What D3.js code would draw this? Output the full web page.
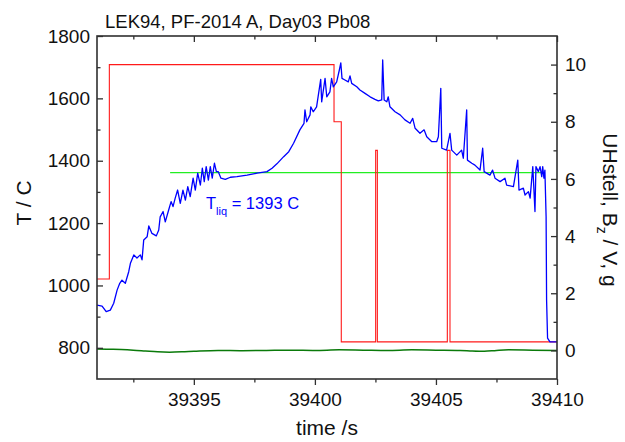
<!DOCTYPE html>
<html><head><meta charset="utf-8">
<script src="https://cdn.jsdelivr.net/npm/d3@7"></script>
<style>
html,body{margin:0;padding:0;background:#fff;}
svg{display:block;font-family:"Liberation Sans",Arial,sans-serif;}
</style></head>
<body>
<svg id="chart" width="625" height="442"></svg>
<script>
// ---------- data ----------
const chartTitle = "LEK94, PF-2014 A, Day03 Pb08";
const xDomain = [39391, 39410];
const yLeftDomain = [700, 1800];
const yRightDomain = [-1, 11];
const xMajorTicks = [39395, 39400, 39405, 39410];
const xMinorTicks = [39392.5, 39397.5, 39402.5, 39407.5];
const yLeftMajorTicks = [800, 1000, 1200, 1400, 1600, 1800];
const yLeftMinorTicks = [900, 1100, 1300, 1500, 1700];
const yRightMajorTicks = [0, 2, 4, 6, 8, 10];
const yRightMinorTicks = [1, 3, 5, 7, 9];

// blue: temperature (left axis)
const tempTime = [39391.00,39391.21,39391.38,39391.55,39391.69,39391.83,39391.94,39392.03,39392.17,39392.31,39392.38,39392.52,39392.65,39392.79,39392.86,39392.93,39393.07,39393.14,39393.27,39393.45,39393.55,39393.61,39393.73,39393.82,39393.96,39394.06,39394.14,39394.23,39394.33,39394.44,39394.55,39394.65,39394.75,39394.85,39394.97,39395.06,39395.16,39395.27,39395.35,39395.43,39395.51,39395.60,39395.68,39395.76,39395.85,39395.93,39396.01,39396.12,39396.30,39396.51,39396.78,39397.20,39397.61,39398.02,39398.23,39398.43,39398.71,39398.92,39399.12,39399.38,39399.55,39399.59,39399.66,39399.80,39399.83,39399.93,39400.07,39400.24,39400.28,39400.42,39400.49,39400.62,39400.69,39400.76,39400.90,39401.01,39401.07,39401.12,39401.24,39401.38,39401.45,39401.52,39401.73,39401.86,39402.07,39402.28,39402.48,39402.62,39402.76,39402.80,39402.86,39402.97,39403.03,39403.10,39403.31,39403.52,39403.72,39403.93,39404.04,39404.14,39404.34,39404.51,39404.62,39404.83,39405.03,39405.10,39405.20,39405.24,39405.44,39405.58,39405.65,39405.86,39406.06,39406.13,39406.27,39406.30,39406.48,39406.61,39406.82,39406.93,39406.99,39407.23,39407.34,39407.44,39407.65,39407.85,39407.92,39408.20,39408.38,39408.43,39408.61,39408.68,39408.82,39408.89,39409.00,39409.09,39409.13,39409.23,39409.30,39409.37,39409.41,39409.46,39409.50,39409.55,39409.57,39409.61,39409.71,39410.00];
const tempValue = [937,934,916,921,943,985,1007,1017,1007,1044,1071,1098,1088,1098,1082,1146,1156,1191,1167,1159,1178,1220,1237,1204,1242,1269,1253,1280,1306,1263,1306,1274,1317,1285,1344,1306,1360,1322,1376,1333,1381,1338,1381,1344,1392,1365,1365,1344,1340,1347,1349,1354,1360,1365,1376,1390,1413,1429,1456,1499,1520,1563,1525,1547,1573,1557,1573,1661,1589,1664,1605,1621,1664,1637,1653,1691,1714,1664,1659,1653,1672,1648,1637,1627,1616,1605,1597,1592,1595,1723,1595,1589,1605,1573,1557,1547,1531,1520,1536,1504,1488,1499,1477,1461,1461,1477,1632,1440,1434,1488,1434,1418,1434,1408,1563,1402,1392,1386,1370,1440,1365,1354,1370,1344,1333,1344,1322,1317,1402,1306,1312,1290,1301,1280,1381,1237,1381,1365,1381,1349,1381,1344,1370,1220,953,831,819,819];

// red: UHstell (right axis), step signal
const uTime = [39391.00,39391.51,39391.51,39400.79,39400.79,39401.09,39401.09,39402.51,39402.51,39402.58,39402.58,39405.47,39405.47,39405.58,39405.58,39410.00];
const uValue = [2.5,2.5,10.0,10.0,8.0,8.0,0.3,0.3,7.0,7.0,0.3,0.3,7.0,7.0,0.3,0.3];

// dark green: Bz (right axis)
const bTime = [39391,39391.5,39392,39392.5,39393,39393.5,39394,39394.5,39395,39396,39397,39398,39399,39400,39401,39402,39403,39404,39405,39406,39406.5,39407,39407.5,39408,39409,39410];
const bValue = [0.05,0.04,0.03,0.01,-0.02,-0.05,-0.06,-0.05,-0.03,0.0,-0.01,0.0,0.01,0.0,0.02,0.01,0.0,0.02,0.01,0.0,-0.02,-0.03,0.0,0.02,0.01,0.0];

// T_liq reference line (left axis)
const liqTime = [39394.02, 39409.5];
const liqValue = [1362, 1362];
const liqLabel = {t: 39395.5, v: 1245, main: "T", sub: "liq", rest: " = 1393 C"};

// ---------- drawing ----------
const svg = d3.select("#chart");
const L = 97, R = 557, T = 36, B = 379;
const x = d3.scaleLinear().domain(xDomain).range([L, R]);
const yL = d3.scaleLinear().domain(yLeftDomain).range([B, T]);
const yR = d3.scaleLinear().domain(yRightDomain).range([B, T]);

const plot = svg.append("g");
svg.append("clipPath").attr("id","clip").append("rect")
  .attr("x", L).attr("y", T).attr("width", R-L).attr("height", B-T);
plot.attr("clip-path","url(#clip)");

function series(ts, vs, ys){ return ts.map((t,i)=>[x(t), ys(vs[i])]); }
const line = d3.line();

plot.append("path").attr("d", line(series(liqTime, liqValue, yL)))
  .attr("fill","none").attr("stroke","#22ee22").attr("stroke-width",1.3);
plot.append("path").attr("d", line(series(uTime, uValue, yR)))
  .attr("fill","none").attr("stroke","#ff1a1a").attr("stroke-width",1.1);
plot.append("path").attr("d", line(series(tempTime, tempValue, yL)))
  .attr("fill","none").attr("stroke","#0000ff").attr("stroke-width",1.3).attr("stroke-linejoin","round");
plot.append("path").attr("d", d3.line().curve(d3.curveMonotoneX)(series(bTime, bValue, yR)))
  .attr("fill","none").attr("stroke","#0a7a0a").attr("stroke-width",1.5);

// T_liq label
const lab = svg.append("text").attr("x", x(liqLabel.t)).attr("y", yL(liqLabel.v))
  .attr("fill","#0000ff").attr("font-size","16.5px");
lab.append("tspan").text(liqLabel.main);
lab.append("tspan").attr("dy", 6).attr("font-size","11px").text(liqLabel.sub);
lab.append("tspan").attr("dy", -6).text(liqLabel.rest);

// axes
const axisColor = "#303030";
function styleAxis(g){
  g.select(".domain").remove();
  g.selectAll("line").attr("stroke", axisColor).attr("stroke-width",1.3);
  g.selectAll("text").attr("fill","#111").attr("font-size","19px").attr("font-family","'Liberation Sans',Arial,sans-serif");
}
// bottom
svg.append("g").attr("transform",`translate(0,${B})`)
  .call(d3.axisBottom(x).tickValues(xMajorTicks).tickFormat(d3.format("d")).tickSize(6).tickPadding(8)).call(styleAxis);
svg.append("g").attr("transform",`translate(0,${B})`)
  .call(d3.axisBottom(x).tickValues(xMinorTicks).tickFormat("").tickSize(3.5)).call(styleAxis);
// top
svg.append("g").attr("transform",`translate(0,${T})`)
  .call(d3.axisTop(x).tickValues(xMajorTicks).tickFormat("").tickSize(-6)).call(styleAxis);
svg.append("g").attr("transform",`translate(0,${T})`)
  .call(d3.axisTop(x).tickValues(xMinorTicks).tickFormat("").tickSize(-3.5)).call(styleAxis);
// left
svg.append("g").attr("transform",`translate(${L},0)`)
  .call(d3.axisLeft(yL).tickValues(yLeftMajorTicks).tickFormat(d3.format("d")).tickSize(-6).tickPadding(7)).call(styleAxis);
svg.append("g").attr("transform",`translate(${L},0)`)
  .call(d3.axisLeft(yL).tickValues(yLeftMinorTicks).tickFormat("").tickSize(-3.5)).call(styleAxis);
// right
svg.append("g").attr("transform",`translate(${R},0)`)
  .call(d3.axisRight(yR).tickValues(yRightMajorTicks).tickFormat(d3.format("d")).tickSize(-6).tickPadding(8)).call(styleAxis);
svg.append("g").attr("transform",`translate(${R},0)`)
  .call(d3.axisRight(yR).tickValues(yRightMinorTicks).tickFormat("").tickSize(-3.5)).call(styleAxis);

// frame
svg.append("rect").attr("x",L).attr("y",T).attr("width",R-L).attr("height",B-T)
  .attr("fill","none").attr("stroke",axisColor).attr("stroke-width",1.6);

// title
svg.append("text").attr("x",105).attr("y",28).attr("font-size","18.5px").attr("fill","#111").text(chartTitle);

// axis titles
svg.append("text").attr("x",(L+R)/2).attr("y",435).attr("text-anchor","middle")
  .attr("font-size","21px").attr("fill","#111").text("time /s");
svg.append("text").attr("transform","translate(31,203) rotate(-90)").attr("text-anchor","middle")
  .attr("font-size","21px").attr("fill","#111").text("T / C");
const rt = svg.append("text").attr("transform","translate(603,210) rotate(90)").attr("text-anchor","middle")
  .attr("font-size","21px").attr("fill","#111");
rt.append("tspan").text("UHstell, B");
rt.append("tspan").attr("dy",6).attr("font-size","14px").text("z");
rt.append("tspan").attr("dy",-6).text(" / V, g");
</script>
</body></html>
